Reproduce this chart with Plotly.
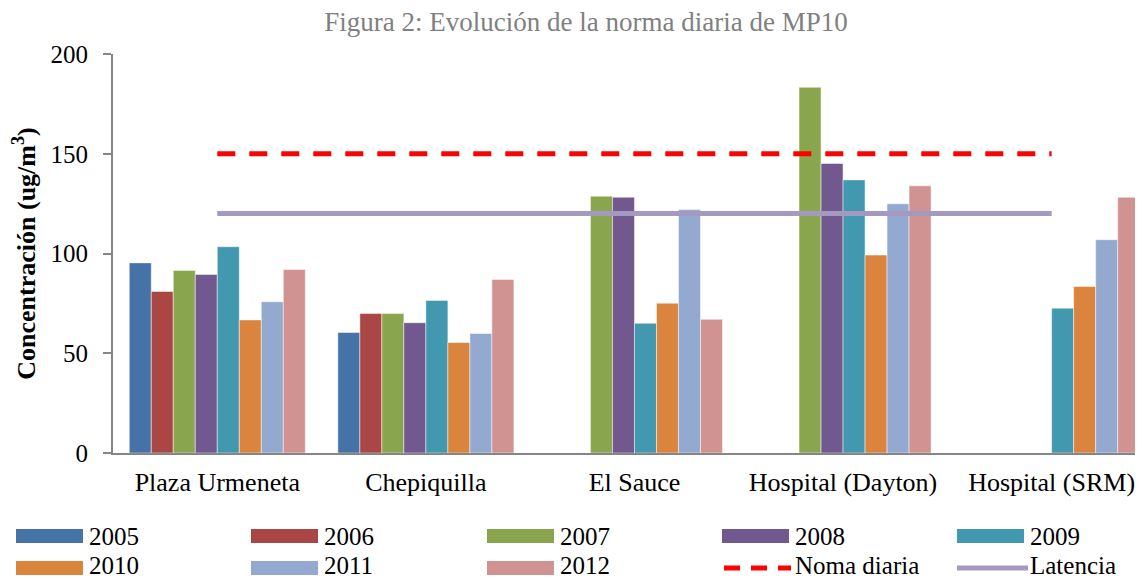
import plotly.graph_objects as go

# ---------------- data ----------------
estaciones = ["Plaza Urmeneta", "Chepiquilla", "El Sauce", "Hospital (Dayton)", "Hospital (SRM)"]
anios = ["2005", "2006", "2007", "2008", "2009", "2010", "2011", "2012"]

v2005 = [95.3, 60.4, None, None, None]
v2006 = [81.0, 69.9, None, None, None]
v2007 = [91.5, 69.9, 128.7, 183.3, None]
v2008 = [89.5, 65.3, 128.2, 145.1, None]
v2009 = [103.4, 76.5, 65.0, 136.9, 72.6]
v2010 = [66.7, 55.4, 75.1, 99.2, 83.5]
v2011 = [75.8, 59.9, 122.0, 124.9, 106.9]
v2012 = [92.0, 87.0, 67.0, 133.9, 128.2]

norma_diaria = [150, 150, 150, 150, 150]
latencia = [120, 120, 120, 120, 120]

y_ticks = [0, 50, 100, 150, 200]

# ---------------- styles ----------------
series = [v2005, v2006, v2007, v2008, v2009, v2010, v2011, v2012]
colores = ["#4572A7", "#AA4643", "#89A54E", "#71588F",
           "#4198AF", "#DB843D", "#93A9CF", "#D19392"]
ROJO = "#FF0000"
LILA = "#A499BF"
FONT = "Liberation Serif"

OFF = 8                     # page body margin
W, H = 1143 - OFF, 580 - OFF
ML, MR, MT, MB = 105, 0, 46, 127
PW = W - ML - MR
PH = H - MT - MB

def px_x(px):
    """page pixel x -> paper coordinate"""
    return (px - OFF - ML) / PW

def px_y(py):
    """page pixel y -> paper coordinate"""
    return (H - MB - (py - OFF)) / PH

fig = go.Figure()

for anio, vals, col in zip(anios, series, colores):
    fig.add_trace(go.Bar(
        x=estaciones, y=vals, name=anio,
        marker=dict(color=col, line=dict(color="rgba(255,255,255,0.6)", width=0.8)),
        showlegend=False,
    ))

fig.add_trace(go.Scatter(
    x=estaciones, y=norma_diaria, mode="lines", name="Noma diaria",
    line=dict(color=ROJO, width=5, dash="18px,14px"), showlegend=False,
))
fig.add_trace(go.Scatter(
    x=estaciones, y=latencia, mode="lines", name="Latencia",
    line=dict(color=LILA, width=5), showlegend=False,
))

# ---------------- manual legend ----------------
col_x = [16, 251, 487, 722, 957]
row_y = [536, 568]
text_y = [536, 565.5]
sw_w, sw_h = 67, 14
legend_items = [(a, c, "bar") for a, c in zip(anios, colores)] + \
               [("Noma diaria", ROJO, "dash"), ("Latencia", LILA, "line")]

shapes = []
annotations = []
for i, (label, col, kind) in enumerate(legend_items):
    cx = col_x[i % 5]
    cy = row_y[i // 5]
    ty = text_y[i // 5]
    if kind == "bar":
        shapes.append(dict(type="rect", xref="paper", yref="paper",
                           x0=px_x(cx), x1=px_x(cx + sw_w),
                           y0=px_y(cy + sw_h / 2), y1=px_y(cy - sw_h / 2),
                           fillcolor=col, line=dict(width=0)))
    elif kind == "dash":
        shapes.append(dict(type="line", xref="paper", yref="paper",
                           x0=px_x(cx + 2), x1=px_x(cx + sw_w + 2),
                           y0=px_y(cy), y1=px_y(cy),
                           line=dict(color=col, width=5, dash="16px,11px")))
    else:
        shapes.append(dict(type="line", xref="paper", yref="paper",
                           x0=px_x(cx), x1=px_x(cx + sw_w + 4),
                           y0=px_y(cy), y1=px_y(cy),
                           line=dict(color=col, width=5)))
    annotations.append(dict(xref="paper", yref="paper",
                            x=px_x(cx + sw_w + 5), y=px_y(ty),
                            xanchor="left", yanchor="middle", showarrow=False,
                            borderpad=0,
                            text=label, font=dict(family=FONT, size=25, color="black")))

fig.update_layout(
    width=W, height=H,
    margin=dict(l=ML, r=MR, t=MT, b=MB, pad=0),
    paper_bgcolor="white", plot_bgcolor="white",
    barmode="group", bargap=0.156, bargroupgap=0,
    title=dict(text="Figura 2: Evolución de la norma diaria de MP10",
               x=(586 - OFF) / W, xanchor="center", y=1 - (22 - OFF) / H, yanchor="middle",
               xref="container", yref="container",
               font=dict(family=FONT, size=27, color="#808080")),
    font=dict(family=FONT, color="black"),
    shapes=shapes,
    annotations=annotations,
    showlegend=False,
)

fig.update_xaxes(
    type="category", range=[-0.5, 4.438],
    showline=True, linecolor="#868686", linewidth=2,
    showgrid=False, ticks="", ticklabelstandoff=5,
    tickfont=dict(family=FONT, size=26, color="black"),
    fixedrange=True,
)
fig.update_yaxes(
    range=[0, 200], tickvals=y_ticks,
    showline=True, linecolor="#868686", linewidth=2,
    showgrid=False, zeroline=False,
    ticks="outside", ticklen=8, tickwidth=2, tickcolor="#868686",
    ticklabelstandoff=10,
    tickfont=dict(family=FONT, size=25, color="black"),
    title=dict(text="<b>Concentración (ug/m<sup>3</sup>)</b>", standoff=11,
               font=dict(family=FONT, size=26, color="black")),
    fixedrange=True,
)

fig.write_html("out.html")
